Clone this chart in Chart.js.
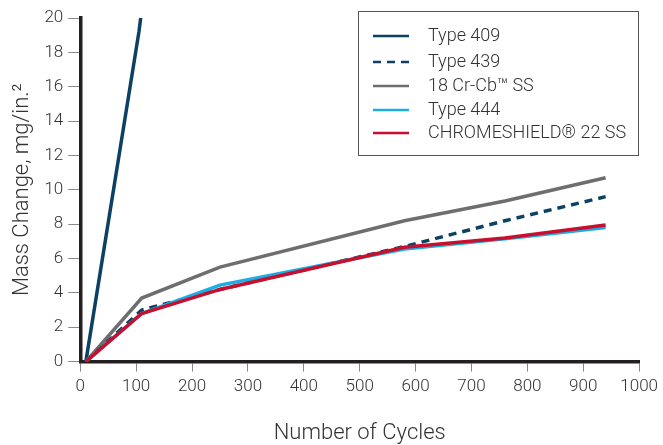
<!DOCTYPE html>
<html>
<head>
<meta charset="utf-8">
<script src="https://cdn.jsdelivr.net/npm/chart.js@4"></script>
<style>
  body { margin: 0; background: #fff; }
</style>
</head>
<body>
<canvas id="massChart" width="663" height="445"></canvas>
<script>
/*---------------------------- data ------------------------------------*/
var seriesNames = ["Type 409", "Type 439", "18 Cr-Cb\u2122 SS", "Type 444", "CHROMESHIELD\u00AE 22 SS"];

var cycles409 = [10, 105, 112];
var mass409   = [0, 19.2, 21];

var cyclesOther = [10, 110, 250, 580, 760, 940];
var mass439  = [0, 3.0, 4.2, 6.7, 8.2, 9.6];
var massCrCb = [0, 3.7, 5.5, 8.2, 9.35, 10.7];
var mass444  = [0, 2.8, 4.45, 6.55, 7.15, 7.8];
var massCS22 = [0, 2.8, 4.2, 6.65, 7.2, 7.95];

var xTicks = [0, 100, 200, 300, 400, 500, 600, 700, 800, 900, 1000];
var yTicks = [0, 2, 4, 6, 8, 10, 12, 14, 16, 18, 20];

function pts(xs, ys) {
  return xs.map(function (x, i) { return { x: x, y: ys[i] }; });
}

var FONT = "Roboto";
var TEXT = "#333";

/*---------------------------- legend box ------------------------------------*/
var boxLegend = {
  id: "boxLegend",
  afterDraw: function (chart) {
    var ctx = chart.ctx;
    var left = 358, top = 11, w = 280, h = 144;
    ctx.save();
    ctx.fillStyle = "#fff";
    ctx.fillRect(left, top, w, h);
    ctx.strokeStyle = "#555";
    ctx.lineWidth = 1;
    ctx.strokeRect(left + 0.5, top + 0.5, w, h);
    var rows = [36, 62, 86, 110, 133];
    ctx.font = "300 18px " + FONT;
    ctx.textBaseline = "middle";
    chart.data.datasets.forEach(function (ds, i) {
      var y = rows[i];
      ctx.strokeStyle = ds.borderColor;
      ctx.lineWidth = 2.5;
      ctx.setLineDash(ds.borderDash || []);
      ctx.beginPath();
      ctx.moveTo(373, y);
      ctx.lineTo(409, y);
      ctx.stroke();
      ctx.setLineDash([]);
      ctx.fillStyle = TEXT;
      ctx.fillText(ds.label, 428, y);
    });
    ctx.restore();
  }
};

/*---------------------------- chart ------------------------------------*/
new Chart("massChart", {
  type: "line",
  data: {
    datasets: [
      { label: seriesNames[0], data: pts(cycles409, mass409), borderColor: "#0c4163", order: 4 },
      { label: seriesNames[1], data: pts(cyclesOther, mass439), borderColor: "#0c4163", borderDash: [8, 6], order: 2 },
      { label: seriesNames[2], data: pts(cyclesOther, massCrCb), borderColor: "#6d6e70", order: 3 },
      { label: seriesNames[3], data: pts(cyclesOther, mass444), borderColor: "#1aaee5", order: 1 },
      { label: seriesNames[4], data: pts(cyclesOther, massCS22), borderColor: "#c8102e", order: 0 }
    ]
  },
  options: {
    responsive: false,
    animation: false,
    layout: { padding: { top: 18, right: 6, left: 5, bottom: 0 } },
    elements: {
      line: { borderWidth: 3.5, tension: 0, fill: false },
      point: { radius: 0 }
    },
    plugins: {
      legend: { display: false },
      tooltip: { enabled: false }
    },
    scales: {
      x: {
        type: "linear",
        min: 0,
        max: 1000,
        afterBuildTicks: function (axis) { axis.ticks = xTicks.map(function (v) { return { value: v }; }); },
        grid: { drawOnChartArea: false, drawTicks: true, tickLength: 10, color: "#888", tickWidth: 1 },
        border: { color: "#231f20", width: 3.5 },
        ticks: {
          color: TEXT, font: { family: FONT, size: 17, weight: "300" }, padding: 5, maxRotation: 0,
          callback: function (v) { return String(v); }
        },
        title: { display: true, text: "Number of Cycles", color: TEXT, font: { family: FONT, size: 22, weight: "300", lineHeight: 1.0 }, padding: { top: 20, bottom: 1 } }
      },
      y: {
        min: 0,
        max: 20,
        afterBuildTicks: function (axis) { axis.ticks = yTicks.map(function (v) { return { value: v }; }); },
        grid: { drawOnChartArea: false, drawTicks: true, tickLength: 12, color: "#888", tickWidth: 1 },
        border: { color: "#231f20", width: 3.5 },
        ticks: { color: TEXT, font: { family: FONT, size: 17, weight: "300" }, padding: 5 },
        title: { display: true, text: "Mass Change, mg/in.\u00B2", color: TEXT, font: { family: FONT, size: 22, weight: "300" }, padding: { bottom: 4 } }
      }
    }
  },
  plugins: [boxLegend]
});
</script>
</body>
</html>
